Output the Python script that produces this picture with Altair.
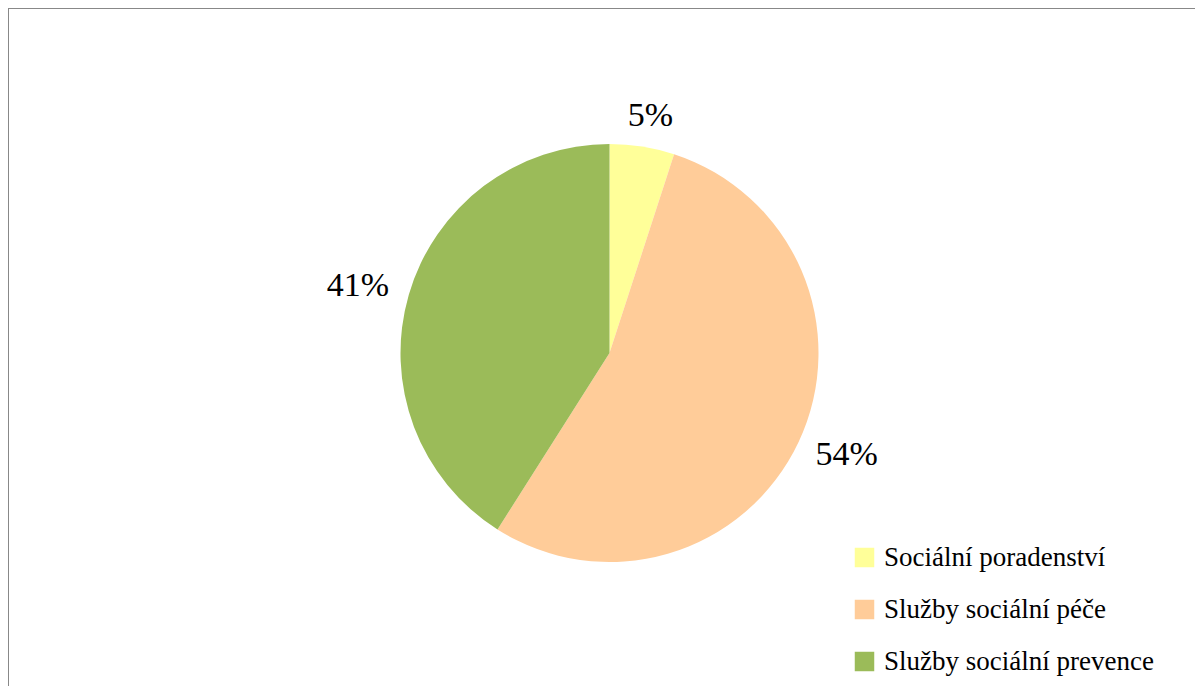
import altair as alt
import pandas as pd

categories = ["Sociální poradenství", "Služby sociální péče", "Služby sociální prevence"]
values = [5, 54, 41]
labels = ["5%", "54%", "41%"]
colors = ["#FFFF99", "#FFCC99", "#9BBB59"]

df = pd.DataFrame({"cat": categories, "val": values, "lab": labels, "ord": [0, 1, 2]})

SERIF = "Times New Roman, Liberation Serif, serif"
CX, CY = 601.5, 345
R = 209
LRX, LRY = 262, 240  # label ellipse radii

pie = alt.Chart(df).mark_arc(radius=R).encode(
    theta=alt.Theta("val:Q", stack=True),
    order=alt.Order("ord:Q", sort="ascending"),
    x=alt.value(CX),
    y=alt.value(CY),
    color=alt.Color(
        "cat:N",
        scale=alt.Scale(domain=categories, range=colors),
        sort=categories,
        legend=alt.Legend(
            title=None,
            orient="none",
            legendX=843,
            legendY=536,
            padding=0,
            symbolType="square",
            symbolSize=380,
            symbolStrokeWidth=0,
            labelFont=SERIF,
            labelFontSize=27,
            labelColor="#000000",
            labelOffset=6,
            rowPadding=24,
            labelLimit=400,
        ),
    ),
)

text = (
    alt.Chart(df)
    .transform_joinaggregate(total="sum(val)")
    .transform_window(cum="sum(val)", sort=[alt.SortField("ord", order="ascending")])
    .transform_calculate(ang="2*PI*(datum.cum - datum.val/2)/datum.total")
    .transform_calculate(
        px=f"{CX} + {LRX}*sin(datum.ang)",
        py=f"{CY} - {LRY}*cos(datum.ang)",
    )
    .mark_text(font=SERIF, fontSize=34, color="#000000")
    .encode(
        x=alt.X("px:Q", scale=None, axis=None),
        y=alt.Y("py:Q", scale=None, axis=None),
        text=alt.Text("lab:N"),
    )
)

border = alt.Chart(df).mark_rect(fill=None, stroke="#888888", strokeWidth=2).encode(
    x=alt.value(0), x2=alt.value(1400), y=alt.value(0), y2=alt.value(900)
)

chart = alt.layer(border, pie, text).properties(
    width=1187, height=678, padding=0,
    autosize=alt.AutoSizeParams(type="none"),
).configure_view(stroke=None)

chart.save("out.html", embed_options={"renderer": "svg", "actions": False})
